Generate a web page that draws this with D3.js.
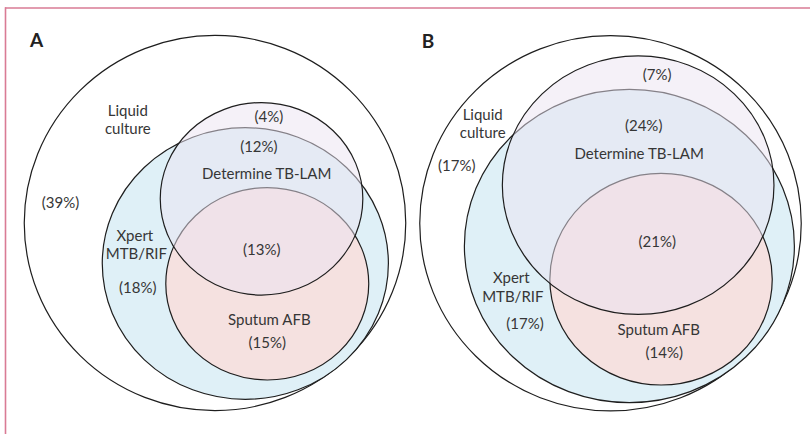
<!DOCTYPE html>
<html><head><meta charset="utf-8">
<script src="https://cdn.jsdelivr.net/npm/d3@7"></script>
<style>html,body{margin:0;padding:0;background:#fff}</style>
</head><body>
<script>
// ---- data ----
const panels = ["A", "B"];
const sets = ["Liquid culture", "Xpert MTB/RIF", "Sputum AFB", "Determine TB-LAM"];
// region percentages per panel
const pctA = {outer: "(39%)", lamOnly: "(4%)", lamXpert: "(12%)", triple: "(13%)", xpertOnly: "(18%)", sputum: "(15%)"};
const pctB = {outer: "(17%)", lamOnly: "(7%)", lamXpert: "(24%)", triple: "(21%)", xpertOnly: "(17%)", sputum: "(14%)"};
// ellipse geometry in unit space (outer circle = radius 1)
const shapesA = [
  {set: "Liquid culture", cx: 0, cy: 0, rx: 1, ry: 1},
  {set: "Xpert MTB/RIF", cx: 0.159, cy: 0.216, rx: 0.750, ry: 0.724},
  {set: "Sputum AFB", cx: 0.274, cy: 0.324, rx: 0.532, ry: 0.513},
  {set: "Determine TB-LAM", cx: 0.244, cy: -0.129, rx: 0.531, ry: 0.513}
];
const shapesB = [
  {set: "Liquid culture", cx: 0, cy: 0, rx: 1, ry: 1},
  {set: "Xpert MTB/RIF", cx: 0.099, cy: 0.121, rx: 0.865, ry: 0.835},
  {set: "Sputum AFB", cx: 0.265, cy: 0.298, rx: 0.583, ry: 0.564},
  {set: "Determine TB-LAM", cx: 0.145, cy: -0.203, rx: 0.712, ry: 0.689}
];

// ---- layout ----
const W = 810, H = 434;
const svg = d3.select("body").append("svg").attr("width", W).attr("height", H);
svg.append("line").attr("x1", 5).attr("x2", W).attr("y1", 8).attr("y2", 8)
  .attr("stroke", "#d97b95").attr("stroke-width", 1.6);
svg.append("line").attr("x1", 5.5).attr("x2", 5.5).attr("y1", 7.2).attr("y2", H)
  .attr("stroke", "#d97b95").attr("stroke-width", 1.6);

const fills = {"Liquid culture": "none", "Xpert MTB/RIF": "#dff0f7", "Sputum AFB": "#f5e1e0", "Determine TB-LAM": "rgba(236,228,242,0.5)"};
const font = "Lato, 'Open Sans', sans-serif";
const fs = 15;
const textCol = "#363636";

const panelGeo = [
  {cx: 215, cy: 223, sx: 190.75, sy: 187.6, shapes: shapesA, pct: pctA,
   lbl: {letter: [-0.97, -0.937], liquid: [-0.457, -0.571], outer: [-0.81, -0.08], lamOnly: [0.283, -0.54], lamXpert: [0.23, -0.38], lamName: [0.271, -0.234], triple: [0.245, 0.17], xpert: [-0.42, 0.094], xpertPct: [-0.405, 0.374], sputName: [0.285, 0.544], sputPct: [0.274, 0.665]}},
  {cx: 610.5, cy: 223.3, sx: 190.75, sy: 187.6, shapes: shapesB, pct: pctB,
   lbl: {letter: [-0.99, -0.937], liquid: [-0.67, -0.55], outer: [-0.806, -0.28], lamOnly: [0.245, -0.764], lamXpert: [0.174, -0.494], lamName: [0.150, -0.343], triple: [0.245, 0.128], xpert: [-0.52, 0.32], xpertPct: [-0.448, 0.565], sputName: [0.253, 0.596], sputPct: [0.282, 0.719]}}
];

panelGeo.forEach((p, i) => {
  const x = d3.scaleLinear().domain([-1, 1]).range([p.cx - p.sx, p.cx + p.sx]);
  const y = d3.scaleLinear().domain([-1, 1]).range([p.cy - p.sy, p.cy + p.sy]);
  const g = svg.append("g");
  g.selectAll("ellipse").data(p.shapes).join("ellipse")
    .attr("cx", d => x(d.cx)).attr("cy", d => y(d.cy))
    .attr("rx", d => x(d.rx) - x(0)).attr("ry", d => y(d.ry) - y(0))
    .attr("fill", d => fills[d.set])
    .attr("stroke", "#1e1e1e").attr("stroke-width", 1.2);

  const L = p.lbl;
  const txt = (pos, str, opts = {}) => g.append("text")
    .attr("x", x(pos[0]) + (opts.dx || 0)).attr("y", y(pos[1]) + (opts.dy || 0))
    .attr("text-anchor", opts.anchor || "middle")
    .attr("font-family", opts.family || font).attr("font-size", opts.size || fs)
    .attr("font-weight", opts.weight || "normal")
    .attr("fill", opts.fill || textCol).text(str);
  txt(L.letter, panels[i], {anchor: "start", size: 19, weight: "bold", fill: "#222"});
  const lc = sets[0].split(" ");
  txt(L.liquid, lc[0]);
  txt(L.liquid, lc[1], {dy: 18});
  txt(L.outer, p.pct.outer);
  txt(L.lamOnly, p.pct.lamOnly);
  txt(L.lamXpert, p.pct.lamXpert);
  txt(L.lamName, sets[3]);
  txt(L.triple, p.pct.triple);
  const xp = sets[1].split(" ");
  txt(L.xpert, xp[0]);
  txt(L.xpert, xp[1], {dx: 1.5, dy: 18.5});
  txt(L.xpertPct, p.pct.xpertOnly);
  txt(L.sputName, sets[2]);
  txt(L.sputPct, p.pct.sputum);
});
</script>
</body></html>
